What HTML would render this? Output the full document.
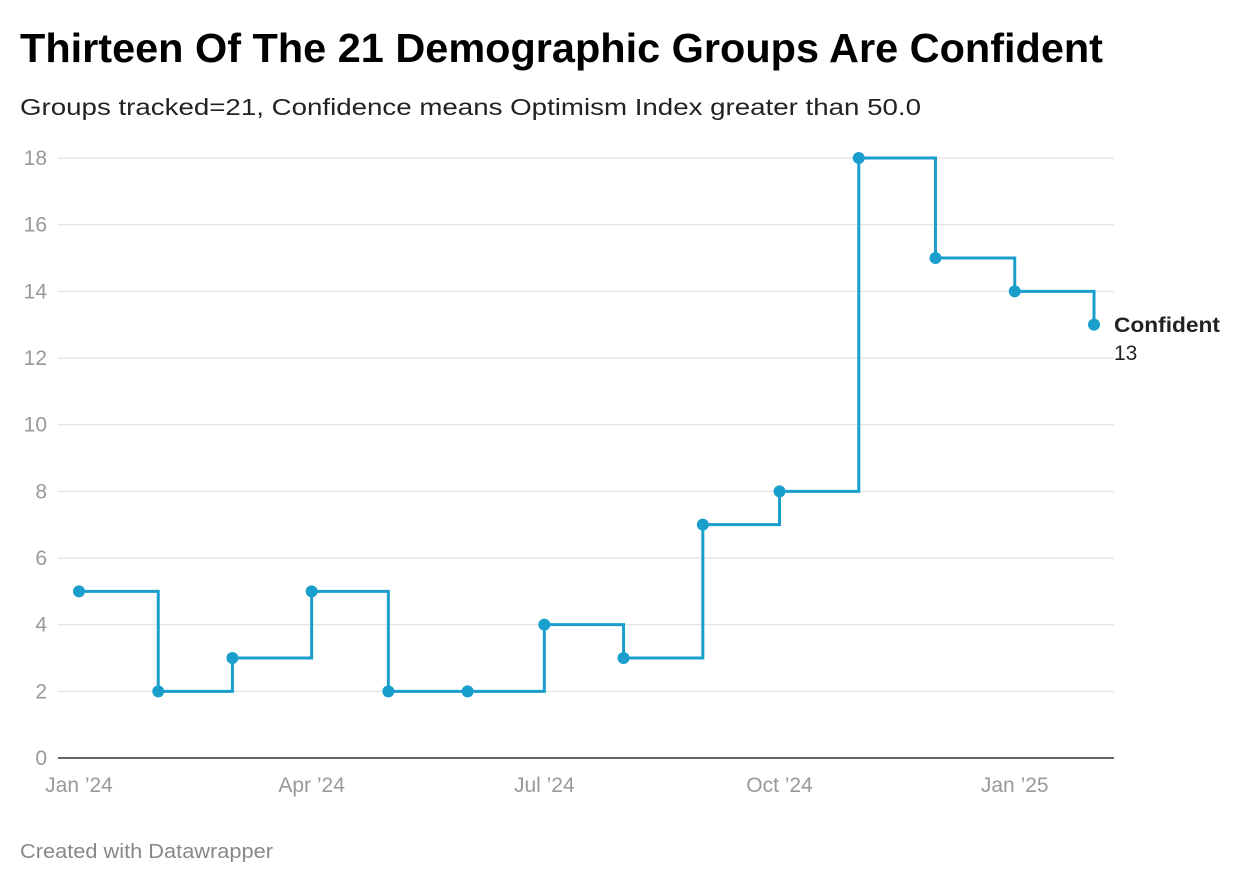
<!DOCTYPE html>
<html><head><meta charset="utf-8">
<style>
body{margin:0;background:#fff;width:1240px;height:884px;overflow:hidden;font-family:"Liberation Sans",Arial,sans-serif;}
</style></head>
<body>
<svg width="1240" height="884" xmlns="http://www.w3.org/2000/svg">
<text x="20" y="62" font-size="41" font-weight="bold" fill="#000" textLength="1083" lengthAdjust="spacingAndGlyphs">Thirteen Of The 21 Demographic Groups Are Confident</text>
<text x="20" y="115" font-size="23" fill="#222" textLength="901" lengthAdjust="spacingAndGlyphs">Groups tracked=21, Confidence means Optimism Index greater than 50.0</text>
<g id="grid"></g>
<g id="xt"></g>
<path id="line" fill="none" stroke="#1a9fcd" stroke-width="3"/>
<g id="pts"></g>
<text x="1114" y="332" font-size="21" font-weight="bold" fill="#222" textLength="106" lengthAdjust="spacingAndGlyphs">Confident</text>
<text x="1114" y="360" font-size="21" fill="#222">13</text>
<text x="20" y="858" font-size="20" fill="#888" textLength="253" lengthAdjust="spacingAndGlyphs">Created with Datawrapper</text>
</svg>
<script>
const dates=["2024-01-01","2024-02-01","2024-03-01","2024-04-01","2024-05-01","2024-06-01","2024-07-01","2024-08-01","2024-09-01","2024-10-01","2024-11-01","2024-12-01","2025-01-01","2025-02-01"];
const values=[5,2,3,5,2,2,4,3,7,8,18,15,14,13];
const yTicks=[0,2,4,6,8,10,12,14,16,18];
const xTickDates=["2024-01-01","2024-04-01","2024-07-01","2024-10-01","2025-01-01"];
const xTickLabels=["Jan ’24","Apr ’24","Jul ’24","Oct ’24","Jan ’25"];
const NS="http://www.w3.org/2000/svg";
const t0=Date.parse("2024-01-01"),t1=Date.parse("2025-02-01");
const x=d=>79+(Date.parse(d)-t0)/(t1-t0)*(1094-79);
const y=v=>758-v*(600/18);
const grid=document.getElementById('grid');
yTicks.forEach(v=>{
 const l=document.createElementNS(NS,'line');
 l.setAttribute('x1',58);l.setAttribute('x2',1114);l.setAttribute('y1',y(v));l.setAttribute('y2',y(v));
 l.setAttribute('stroke',v===0?'#333':'#e0e0e0');l.setAttribute('stroke-width',v===0?1.5:1.2);
 
 
 grid.appendChild(l);
 const t=document.createElementNS(NS,'text');
 t.setAttribute('x',47);t.setAttribute('y',y(v)+7);t.setAttribute('text-anchor','end');
 t.setAttribute('font-size',21);t.setAttribute('fill','#999');t.textContent=v;
 
 
 grid.appendChild(t);
});
const xt=document.getElementById('xt');
xTickDates.forEach((d,i)=>{
 const t=document.createElementNS(NS,'text');
 t.setAttribute('x',x(d));t.setAttribute('y',792);t.setAttribute('text-anchor','middle');
 t.setAttribute('font-size',21);t.setAttribute('fill','#999');t.textContent=xTickLabels[i];
 
 
 xt.appendChild(t);
});
let d='M'+x(dates[0])+','+y(values[0]);
for(let i=1;i<dates.length;i++){d+=' H'+x(dates[i])+' V'+y(values[i]);}
document.getElementById('line').setAttribute('d',d);
const pts=document.getElementById('pts');
dates.forEach((dt,i)=>{
 const c=document.createElementNS(NS,'circle');
 c.setAttribute('cx',x(dt));c.setAttribute('cy',y(values[i]));c.setAttribute('r',6);c.setAttribute('fill','#1a9fcd');
 
 
 pts.appendChild(c);
});
</script>
</body></html>
